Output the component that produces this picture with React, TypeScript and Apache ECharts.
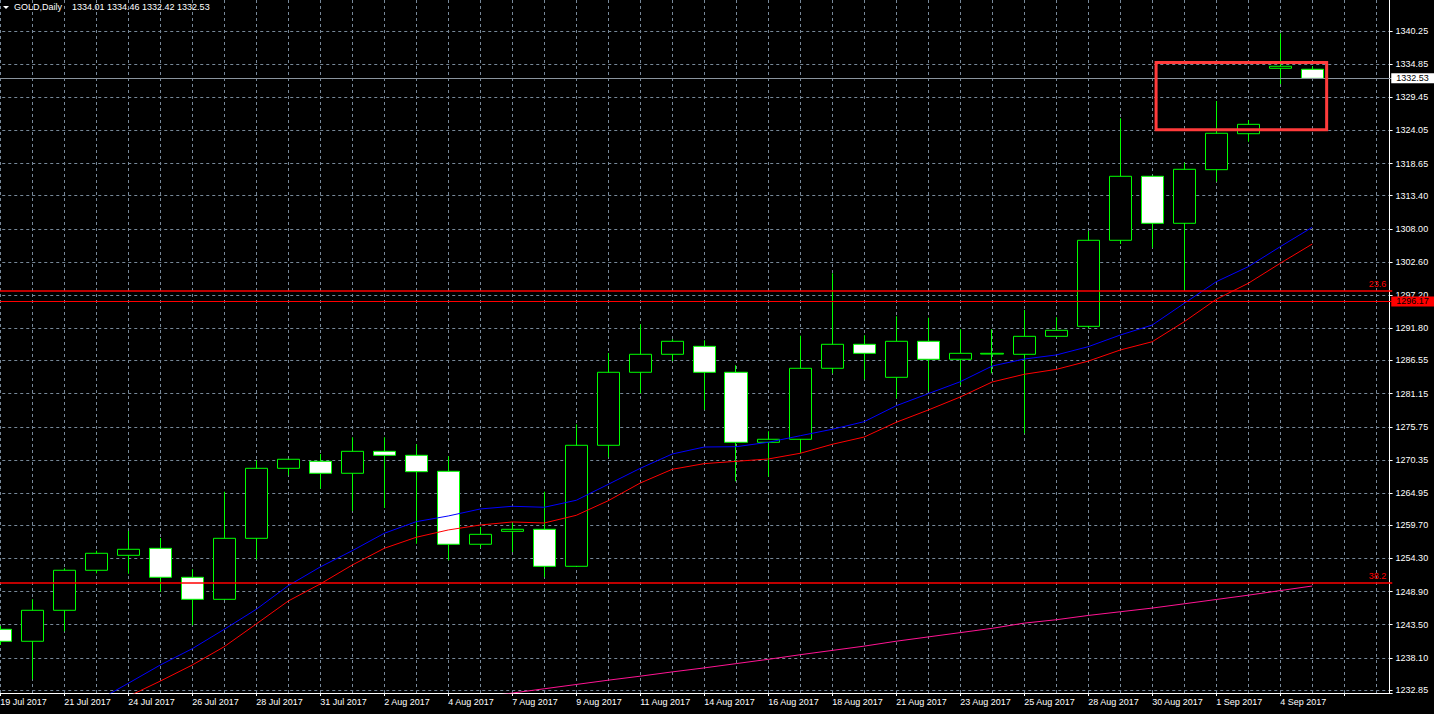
import React, { useEffect, useRef } from "react";
import * as echarts from "echarts";

const FONT = "Liberation Sans";

const symbolTitle = "GOLD,Daily";

const dates = [
  "19 Jul 2017", "20 Jul 2017", "21 Jul 2017", "23 Jul 2017", "24 Jul 2017", "25 Jul 2017",
  "26 Jul 2017", "27 Jul 2017", "28 Jul 2017", "30 Jul 2017", "31 Jul 2017", "1 Aug 2017",
  "2 Aug 2017", "3 Aug 2017", "4 Aug 2017", "6 Aug 2017", "7 Aug 2017", "8 Aug 2017",
  "9 Aug 2017", "10 Aug 2017", "11 Aug 2017", "13 Aug 2017", "14 Aug 2017", "15 Aug 2017",
  "16 Aug 2017", "17 Aug 2017", "18 Aug 2017", "20 Aug 2017", "21 Aug 2017", "22 Aug 2017",
  "23 Aug 2017", "24 Aug 2017", "25 Aug 2017", "27 Aug 2017", "28 Aug 2017", "29 Aug 2017",
  "30 Aug 2017", "31 Aug 2017", "1 Sep 2017", "3 Sep 2017", "4 Sep 2017", "5 Sep 2017",
];
// empty future slots on the right (chart shift)
const emptySlots = ["", ""];

const opens = [
  1242.74, 1240.79, 1245.84, 1252.36, 1254.80, 1255.94, 1251.22, 1247.63, 1257.57, 1268.98,
  1270.12, 1268.17, 1271.75, 1271.10, 1268.49, 1256.60, 1258.71, 1259.04, 1253.01, 1272.73,
  1284.63, 1287.56, 1288.86, 1284.63, 1273.22, 1273.71, 1285.28, 1289.19, 1283.81, 1289.68,
  1286.75, 1287.60, 1287.56, 1290.49, 1292.12, 1306.14, 1316.57, 1308.91, 1317.65, 1323.51,
  1334.17, 1334.01,
];
const closes = [
  1240.79, 1245.84, 1252.36, 1255.13, 1255.78, 1251.22, 1247.63, 1257.57, 1268.98, 1270.45,
  1268.17, 1271.75, 1271.10, 1268.43, 1256.60, 1258.22, 1259.04, 1253.01, 1272.73, 1284.63,
  1287.56, 1289.68, 1284.63, 1273.22, 1273.71, 1285.28, 1289.19, 1287.72, 1289.68, 1286.75,
  1287.72, 1287.72, 1290.49, 1291.47, 1306.14, 1316.57, 1308.91, 1317.71, 1323.58, 1325.04,
  1334.50, 1332.53,
];
const lows = [
  1240.20, 1234.59, 1242.42, 1251.87, 1251.80, 1248.87, 1243.39, 1247.55, 1254.15, 1267.84,
  1265.66, 1262.02, 1262.51, 1256.69, 1253.99, 1256.04, 1255.34, 1251.22, 1252.95, 1270.77,
  1281.20, 1286.47, 1278.53, 1266.86, 1267.61, 1271.43, 1284.46, 1283.48, 1280.39, 1281.53,
  1282.51, 1284.46, 1274.68, 1290.33, 1291.80, 1305.54, 1304.93, 1298.04, 1315.69, 1322.21,
  1331.59, 1332.42,
];
const highs = [
  1243.30, 1247.63, 1252.68, 1255.55, 1258.76, 1257.62, 1252.52, 1265.17, 1270.28, 1270.55,
  1271.31, 1274.03, 1274.03, 1272.89, 1270.94, 1259.41, 1260.12, 1265.17, 1276.15, 1287.77,
  1292.45, 1290.00, 1289.84, 1285.77, 1275.01, 1290.59, 1300.76, 1290.66, 1293.75, 1293.52,
  1291.63, 1291.63, 1294.78, 1293.59, 1307.65, 1326.02, 1316.70, 1318.78, 1328.84, 1325.74,
  1339.87, 1334.46,
];

// moving averages (blue, red, magenta)
const maBlue = [
  null, null, null, 1231.0, 1233.94, 1236.92, 1239.58, 1242.74, 1246.0, 1249.85,
  1252.9, 1255.55, 1258.39, 1260.28, 1261.21, 1262.35, 1262.79, 1262.63, 1263.77, 1266.37,
  1268.98, 1271.31, 1272.45, 1272.50, 1273.22, 1274.29, 1275.34, 1276.58, 1279.18, 1281.14,
  1283.09, 1285.65, 1286.79, 1287.45, 1288.80, 1290.70, 1292.33, 1295.87, 1299.39, 1301.84,
  1305.10, 1308.26,
];
const maRed = [
  null, null, null, null, 1231.8, 1234.3, 1236.92, 1239.91, 1243.61, 1247.35,
  1250.13, 1253.22, 1255.94, 1257.74, 1258.93, 1259.74, 1260.23, 1260.07, 1261.32, 1263.70,
  1266.58, 1268.82, 1269.74, 1270.12, 1270.50, 1271.43, 1272.89, 1274.08, 1276.48, 1278.48,
  1280.60, 1283.05, 1284.30, 1285.10, 1286.45, 1288.26, 1289.61, 1292.87, 1296.52, 1299.13,
  1302.39, 1305.53,
];
const maMagenta = [
  null, null, null, null, null, null, null, null, null, null,
  null, null, null, null, null, 1231.65, 1232.35, 1233.05, 1233.75, 1234.45,
  1235.10, 1235.80, 1236.45, 1237.15, 1237.85, 1238.60, 1239.30, 1240.00, 1240.80, 1241.50,
  1242.20, 1242.90, 1243.75, 1244.30, 1245.00, 1245.60, 1246.20, 1246.90, 1247.60, 1248.30,
  1249.05, 1249.80,
];

const yTicks = [
  1232.85, 1238.10, 1243.50, 1248.90, 1254.30, 1259.70, 1264.95, 1270.35, 1275.75, 1281.15,
  1286.55, 1291.80, 1297.20, 1302.60, 1308.00, 1313.40, 1318.65, 1324.05, 1329.45, 1334.85,
  1340.25,
];
const yMin = 1232.36;
const yMax = 1345.3;

const fibLabels = ["23.6", "38.2"];
const fibPrices = [1297.99, 1250.4];
const hLinePrice = 1296.17;
const bidPrice = 1332.53;

// rectangle object: bar-index range and price range
const rectBars = [36.12, 41.45];
const rectPrices = [1335.12, 1324.15];

const GRID_COLOR = "#778899";
const CANDLE_GREEN = "#00ff00";

// the chart canvas starts half a bar left of the page so that the first candle is cut
const SHIFT = 16;

export default function App() {
  const ref = useRef<HTMLDivElement>(null);

  useEffect(() => {
    document.body.style.margin = "0";
    document.body.style.background = "#000";
    if (!ref.current) return;
    const chart = echarts.init(ref.current, undefined, { renderer: "svg" });

    const categories = dates.concat(emptySlots);
    const candles = dates.map((_, i) => [opens[i], closes[i], lows[i], highs[i]]);
    const last = dates.length - 1;
    const ohlcText = [opens[last], highs[last], lows[last], closes[last]]
      .map((v) => v.toFixed(2))
      .join(" ");

    const markLineData: any[] = fibPrices.map((p, k) => ({
      yAxis: p,
      lineStyle: { color: "#ff0000", width: 1.5, type: "solid" },
      label: {
        show: true,
        position: "insideEndTop",
        formatter: fibLabels[k],
        color: "#ff0000",
        fontSize: 9,
        fontFamily: FONT,
        distance: [6, 2],
      },
    }));
    markLineData.push({
      yAxis: hLinePrice,
      lineStyle: { color: "#ff0000", width: 1, type: "solid" },
      label: {
        show: true,
        position: "end",
        formatter: hLinePrice.toFixed(2),
        color: "#000",
        backgroundColor: "#ff0000",
        padding: [1, 8, 0, 5],
        fontSize: 9,
        fontFamily: FONT,
        distance: -1,
      },
    });
    markLineData.push({
      yAxis: bidPrice,
      lineStyle: { color: "#8a949e", width: 1, type: "solid" },
      label: {
        show: true,
        position: "end",
        formatter: bidPrice.toFixed(2),
        color: "#000",
        backgroundColor: "#ffffff",
        padding: [1, 8, 0, 5],
        fontSize: 9,
        fontFamily: FONT,
        distance: -1,
      },
    });

    const option: any = {
      animation: false,
      backgroundColor: "#000000",
      textStyle: { fontFamily: FONT },
      grid: { left: 0.25, right: 41.75, top: 0, bottom: 21, containLabel: false },
      xAxis: {
        type: "category",
        data: categories,
        boundaryGap: true,
        axisLine: { show: true, onZero: false, lineStyle: { color: "#ffffff", width: 1 } },
        axisTick: {
          show: true,
          interval: 1,
          alignWithLabel: true,
          length: 3,
          lineStyle: { color: "#ffffff" },
        },
        axisLabel: {
          interval: 1,
          color: "#ffffff",
          fontSize: 9,
          fontFamily: FONT,
          align: "left",
          margin: 4,
        },
        splitLine: {
          show: true,
          interval: 0,
          alignWithLabel: true,
          lineStyle: { color: GRID_COLOR, type: [3, 3], width: 1 },
        },
      },
      yAxis: {
        type: "value",
        position: "right",
        min: yMin,
        max: yMax,
        offset: -2.65,
        axisLine: { show: true, lineStyle: { color: "#ffffff", width: 1 } },
        axisTick: {
          show: true,
          length: 3,
          customValues: yTicks,
          lineStyle: { color: "#ffffff" },
        },
        axisLabel: {
          customValues: yTicks,
          formatter: (v: number) => v.toFixed(2),
          color: "#ffffff",
          fontSize: 9,
          fontFamily: FONT,
          margin: 6,
        },
        splitLine: {
          show: true,
          lineStyle: { color: GRID_COLOR, type: [3, 3], width: 1 },
        },
      },
      series: [
        {
          type: "candlestick",
          data: candles,
          barWidth: 23,
          itemStyle: {
            color: "#000000",
            color0: "#ffffff",
            borderColor: CANDLE_GREEN,
            borderColor0: CANDLE_GREEN,
            borderColorDoji: CANDLE_GREEN,
            borderWidth: 1,
          },
          markLine: {
            symbol: ["none", "none"],
            silent: true,
            animation: false,
            data: markLineData,
          },
        },
        {
          type: "line",
          data: maBlue,
          symbol: "none",
          color: "#0000ff",
          lineStyle: { color: "#0000ff", width: 1 },
        },
        {
          type: "line",
          data: maRed,
          symbol: "none",
          color: "#ff0000",
          lineStyle: { color: "#ff0000", width: 1 },
        },
        {
          type: "line",
          data: maMagenta,
          symbol: "none",
          color: "#ff1493",
          lineStyle: { color: "#ff1493", width: 1 },
        },
      ],
    };
    chart.setOption(option);

    const barX = (b: number) => {
      const i = Math.floor(b);
      const f = b - i;
      const a = chart.convertToPixel({ gridIndex: 0 }, [i, yMin]) as number[];
      const c = chart.convertToPixel({ gridIndex: 0 }, [i + 1, yMin]) as number[];
      return a[0] + f * (c[0] - a[0]);
    };
    const priceY = (p: number) =>
      (chart.convertToPixel({ gridIndex: 0 }, [0, p]) as number[])[1];

    const rx0 = barX(rectBars[0]);
    const rx1 = barX(rectBars[1]);
    const ry0 = priceY(rectPrices[0]);
    const ry1 = priceY(rectPrices[1]);

    chart.setOption({
      graphic: [
        {
          type: "polygon",
          z: 100,
          shape: { points: [[SHIFT + 3, 6], [SHIFT + 9, 6], [SHIFT + 6, 9]] },
          style: { fill: "#ffffff" },
        },
        {
          type: "text",
          z: 100,
          x: SHIFT + 14,
          y: 7,
          style: {
            text: symbolTitle,
            fill: "#ffffff",
            fontSize: 9,
            fontFamily: FONT,
            verticalAlign: "middle",
          },
        },
        {
          type: "text",
          z: 100,
          x: SHIFT + 72,
          y: 7,
          style: {
            text: ohlcText,
            fill: "#ffffff",
            fontSize: 9,
            fontFamily: FONT,
            verticalAlign: "middle",
          },
        },
        {
          type: "rect",
          z: 100,
          shape: { x: rx0, y: ry0, width: rx1 - rx0, height: ry1 - ry0 },
          style: { fill: "none", stroke: "#ff3b3b", lineWidth: 3 },
        },
      ],
    });

    return () => {
      chart.dispose();
    };
  }, []);

  return (
    <div style={{ position: "relative", width: 1434, height: 714, overflow: "hidden", background: "#000" }}>
      <div
        ref={ref}
        style={{ position: "absolute", left: -SHIFT, top: 0, width: 1434 + SHIFT, height: 714 }}
      />
    </div>
  );
}
